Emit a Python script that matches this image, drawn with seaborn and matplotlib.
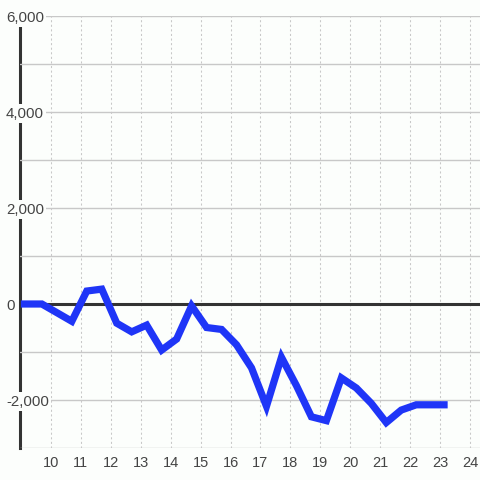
import matplotlib
matplotlib.use("Agg")
import matplotlib.pyplot as plt
import seaborn as sns
import pandas as pd

# values
days = [9.0, 9.7, 10.7, 11.2, 11.7, 12.2, 12.7, 13.2, 13.7, 14.2, 14.7, 15.2,
        15.7, 16.2, 16.7, 17.2, 17.7, 18.2, 18.7, 19.2, 19.7, 20.2, 20.7,
        21.2, 21.7, 22.2, 22.7, 23.25]
values = [0, 0, -360, 270, 310, -400, -580, -440, -960, -730, -40, -490,
          -530, -850, -1330, -2130, -1110, -1700, -2350, -2430, -1540, -1750,
          -2070, -2470, -2210, -2100, -2100, -2100]
x_ticks = list(range(10, 25))
y_ticks = [-3000, -2000, -1000, 0, 1000, 2000, 3000, 4000, 5000, 6000]
y_labels = ["", "-2,000", "", "0", "", "2,000", "", "4,000", "", "6,000"]

BG = "#fcfefc"
DARK = "#333333"
GRID = "#c8c8c8"

sns.set_theme(style="white")
plt.rcParams["font.family"] = ["Liberation Sans", "DejaVu Sans"]

df = pd.DataFrame({"day": days, "value": values})

fig = plt.figure(figsize=(4.8, 4.8), dpi=100, facecolor=BG)
ax = fig.add_axes([20 / 480, 32 / 480, 460 / 480, 432 / 480], facecolor=BG)
ax.set_axisbelow(True)

sns.lineplot(data=df, x="day", y="value", sort=False, estimator=None,
             color="#1f35f7", linewidth=5.2, ax=ax, zorder=3,
             solid_joinstyle="miter", solid_capstyle="butt")
ax.axhline(0, color=DARK, linewidth=2.2, zorder=2)

ax.set_xlim(8.97, 24.33)
ax.set_ylim(-3000, 6000)
ax.set_xticks(x_ticks)
ax.set_yticks(y_ticks)
ax.set_yticklabels(y_labels)

ax.grid(axis="y", color=GRID, linewidth=1.0, linestyle="-")
ax.grid(axis="x", color=GRID, linewidth=0.75, linestyle=(0, (2.0, 2.4)))

for side in ["top", "right", "bottom"]:
    ax.spines[side].set_visible(False)
ax.spines["left"].set_color(DARK)
ax.spines["left"].set_linewidth(2.2)
ax.spines["left"].set_zorder(0.4)

ax.tick_params(axis="x", length=0, pad=6, labelsize=10.5, labelcolor="#444444")
ax.tick_params(axis="y", length=0, pad=10, labelsize=10.8, labelcolor="#444444")
for lab in ax.get_yticklabels():
    lab.set_horizontalalignment("left")
    lab.set_bbox(dict(facecolor=BG, edgecolor="none", pad=1.5))

ax.set_xlabel("")
ax.set_ylabel("")

fig.savefig("out.png", dpi=100, facecolor=BG)
